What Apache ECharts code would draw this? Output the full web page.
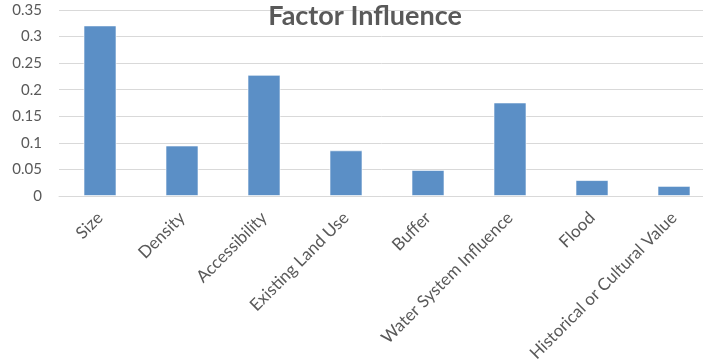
<!DOCTYPE html>
<html>
<head>
<meta charset="utf-8">
<script src="https://cdn.jsdelivr.net/npm/echarts@6/dist/echarts.min.js"></script>
<style>
html,body{margin:0;padding:0;background:#fff;}
#chart{width:703px;height:364px;}
</style>
</head>
<body>
<div id="chart"></div>
<script>
var categories = ["Size","Density","Accessibility","Existing Land Use","Buffer","Water System Influence","Flood","Historical or Cultural Value"];
var influence = [0.321,0.095,0.228,0.086,0.049,0.176,0.030,0.019];
var yTicks = [0,0.05,0.1,0.15,0.2,0.25,0.3,0.35];
var titleText = "Factor Influence";

var chart = echarts.init(document.getElementById('chart'), null, {renderer:'canvas'});
chart.setOption({
  animation:false,
  backgroundColor:'#ffffff',
  title:{
    text:titleText,
    left:360, top:-2, textAlign:'center',
    textStyle:{fontFamily:'Lato', fontWeight:'bold', fontSize:27, color:'#595959'}
  },
  grid:{left:59, top:10, width:656, height:186, containLabel:false, outerBoundsMode:'none'},
  xAxis:{
    type:'category',
    data:categories,
    axisLine:{show:true, lineStyle:{color:'#d9d9d9', width:1}},
    axisTick:{show:false},
    axisLabel:{rotate:45, interval:0, margin:19, fontFamily:'Lato', fontSize:17, color:'#595959'}
  },
  yAxis:{
    type:'value',
    min:yTicks[0], max:yTicks[yTicks.length-1], interval:0.05,
    axisLine:{show:false},
    axisTick:{show:false},
    splitLine:{lineStyle:{color:'#d9d9d9', width:1}},
    axisLabel:{margin:17, fontFamily:'Lato', fontSize:15, color:'#595959',
      formatter:function(v){return String(parseFloat(v.toFixed(2)));}}
  },
  series:[{
    type:'bar',
    data:influence,
    barWidth:33,
    itemStyle:{color:'#5b8fc6', borderColor:'rgba(255,255,255,0.6)', borderWidth:1}
  }]
});
</script>
</body>
</html>
